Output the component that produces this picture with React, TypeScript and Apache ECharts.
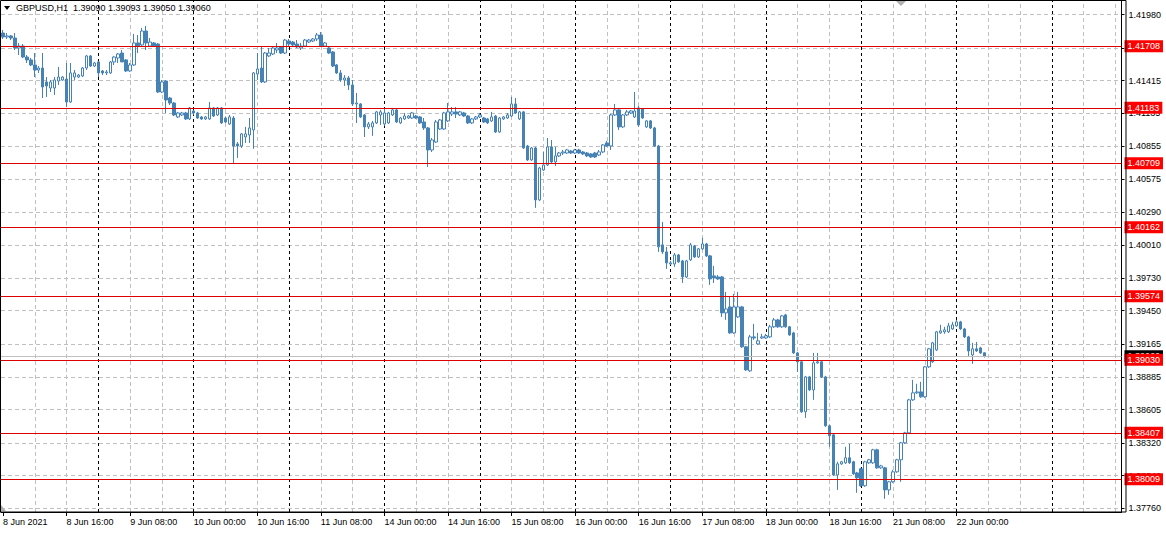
import React, { useEffect, useRef } from 'react';
import * as echarts from 'echarts';

const symbolName = 'GBPUSD';
const periodName = 'H1';
const firstLabel = '8 Jun 2021';
const tradingDays = ['8 Jun', '9 Jun', '10 Jun', '11 Jun', '14 Jun', '15 Jun', '16 Jun', '17 Jun', '18 Jun', '21 Jun', '22 Jun', '23 Jun'];
const totalSlots = 282;
const gridEvery = 8;
const labelEvery = 16;

const opens = [
  1.41822, 1.41788, 1.41797, 1.41779, 1.41694, 1.41711, 1.41617, 1.41592, 1.41549, 1.41506,
  1.41523, 1.41404, 1.41352, 1.41352, 1.41412, 1.41421, 1.41429, 1.41233, 1.41446, 1.41446,
  1.41455, 1.41523, 1.41626, 1.41540, 1.41575, 1.41498, 1.41481, 1.41481, 1.41575, 1.41609,
  1.41651, 1.41592, 1.41498, 1.41549, 1.41737, 1.41720, 1.41839, 1.41711, 1.41737, 1.41728,
  1.41318, 1.41412, 1.41267, 1.41224, 1.41105, 1.41122, 1.41139, 1.41088, 1.41156, 1.41139,
  1.41105, 1.41088, 1.41088, 1.41182, 1.41122, 1.41182, 1.41096, 1.41045, 1.41096, 1.40874,
  1.40857, 1.40934, 1.40951, 1.40994, 1.41472, 1.41523, 1.41404, 1.41626, 1.41643, 1.41677,
  1.41703, 1.41651, 1.41754, 1.41745, 1.41728, 1.41694, 1.41711, 1.41745, 1.41754, 1.41771,
  1.41805, 1.41711, 1.41694, 1.41660, 1.41549, 1.41481, 1.41421, 1.41438, 1.41378, 1.41216,
  1.41216, 1.41122, 1.41020, 1.41020, 1.41054, 1.41122, 1.41045, 1.41054, 1.41122, 1.41165,
  1.41054, 1.41088, 1.41096, 1.41096, 1.41113, 1.41105, 1.41062, 1.41011, 1.40823, 1.40891,
  1.41002, 1.41002, 1.41071, 1.41130, 1.41148, 1.41122, 1.41139, 1.41113, 1.41054, 1.41088,
  1.41105, 1.41096, 1.41088, 1.41071, 1.41113, 1.40977, 1.41088, 1.41096, 1.41113, 1.41216,
  1.41088, 1.41148, 1.40857, 1.40738, 1.40840, 1.40396, 1.40652, 1.40695, 1.40849, 1.40721,
  1.40772, 1.40797, 1.40797, 1.40814, 1.40797, 1.40823, 1.40806, 1.40797, 1.40789, 1.40797,
  1.40780, 1.40806, 1.40883, 1.40857, 1.41122, 1.41165, 1.41020, 1.41122, 1.41139, 1.41105,
  1.41182, 1.41173, 1.41020, 1.41071, 1.41011, 1.40857, 1.40012, 1.39952, 1.39849, 1.39849,
  1.39926, 1.39875, 1.39738, 1.39884, 1.40003, 1.39909, 1.39978, 1.40020, 1.39918, 1.39747,
  1.39738, 1.39738, 1.39431, 1.39482, 1.39260, 1.39397, 1.39482, 1.39141, 1.38936, 1.39226,
  1.39166, 1.39217, 1.39217, 1.39226, 1.39312, 1.39371, 1.39312, 1.39414, 1.39312, 1.39260,
  1.39089, 1.39013, 1.38586, 1.38884, 1.38773, 1.39004, 1.39013, 1.38884, 1.38466, 1.38389,
  1.38047, 1.38141, 1.38150, 1.38193, 1.38159, 1.38064, 1.38099, 1.37954, 1.38150, 1.38150,
  1.38261, 1.38107, 1.38107, 1.37919, 1.37988, 1.38073, 1.38176, 1.38321, 1.38406, 1.38688,
  1.38748, 1.38756, 1.38714, 1.38970, 1.39013, 1.39115, 1.39260, 1.39269, 1.39269, 1.39294,
  1.39320, 1.39354, 1.39294, 1.39226, 1.39072, 1.39124, 1.39132, 1.39090,
];

const highs = [
  1.41848, 1.41822, 1.41805, 1.41822, 1.41737, 1.41728, 1.41634, 1.41609, 1.41651, 1.41540,
  1.41651, 1.41446, 1.41421, 1.41446, 1.41532, 1.41455, 1.41566, 1.41566, 1.41506, 1.41472,
  1.41532, 1.41634, 1.41634, 1.41575, 1.41583, 1.41506, 1.41506, 1.41583, 1.41626, 1.41651,
  1.41677, 1.41600, 1.41566, 1.41814, 1.41805, 1.41865, 1.41882, 1.41779, 1.41745, 1.41737,
  1.41421, 1.41421, 1.41276, 1.41233, 1.41148, 1.41148, 1.41148, 1.41190, 1.41165, 1.41148,
  1.41113, 1.41113, 1.41233, 1.41190, 1.41190, 1.41190, 1.41105, 1.41122, 1.41113, 1.40891,
  1.40968, 1.41020, 1.41096, 1.41489, 1.41651, 1.41703, 1.41660, 1.41694, 1.41703, 1.41737,
  1.41711, 1.41771, 1.41771, 1.41754, 1.41762, 1.41737, 1.41771, 1.41771, 1.41779, 1.41822,
  1.41831, 1.41745, 1.41703, 1.41668, 1.41557, 1.41506, 1.41463, 1.41455, 1.41421, 1.41310,
  1.41224, 1.41130, 1.41062, 1.41071, 1.41156, 1.41165, 1.41182, 1.41148, 1.41182, 1.41173,
  1.41105, 1.41139, 1.41122, 1.41148, 1.41122, 1.41113, 1.41096, 1.41020, 1.40925, 1.41079,
  1.41088, 1.41148, 1.41224, 1.41190, 1.41190, 1.41156, 1.41148, 1.41122, 1.41096, 1.41113,
  1.41139, 1.41105, 1.41096, 1.41148, 1.41122, 1.41105, 1.41113, 1.41139, 1.41276, 1.41267,
  1.41156, 1.41156, 1.40866, 1.40849, 1.40849, 1.40678, 1.40806, 1.40925, 1.40908, 1.40849,
  1.40806, 1.40823, 1.40832, 1.40823, 1.40832, 1.40832, 1.40814, 1.40806, 1.40797, 1.40806,
  1.40823, 1.40874, 1.40900, 1.41130, 1.41216, 1.41173, 1.41130, 1.41165, 1.41165, 1.41318,
  1.41199, 1.41182, 1.41079, 1.41079, 1.41020, 1.40866, 1.40208, 1.39995, 1.39875, 1.39943,
  1.39935, 1.39884, 1.39884, 1.40029, 1.40012, 1.39986, 1.40071, 1.40029, 1.39926, 1.39832,
  1.39755, 1.39747, 1.39610, 1.39568, 1.39593, 1.39610, 1.39491, 1.39149, 1.39243, 1.39337,
  1.39260, 1.39252, 1.39252, 1.39329, 1.39388, 1.39380, 1.39414, 1.39422, 1.39320, 1.39269,
  1.39098, 1.39021, 1.38893, 1.38893, 1.39089, 1.39089, 1.39021, 1.38893, 1.38475, 1.38398,
  1.38159, 1.38167, 1.38287, 1.38312, 1.38167, 1.38073, 1.38107, 1.38167, 1.38184, 1.38270,
  1.38270, 1.38133, 1.38116, 1.37996, 1.38090, 1.38184, 1.38329, 1.38415, 1.38697, 1.38859,
  1.38825, 1.38842, 1.38978, 1.39132, 1.39183, 1.39277, 1.39329, 1.39312, 1.39346, 1.39354,
  1.39371, 1.39363, 1.39303, 1.39235, 1.39175, 1.39183, 1.39141, 1.39093,
];

const lows = [
  1.41771, 1.41771, 1.41762, 1.41677, 1.41634, 1.41609, 1.41566, 1.41540, 1.41446, 1.41481,
  1.41267, 1.41276, 1.41318, 1.41293, 1.41378, 1.41412, 1.41190, 1.41224, 1.41421, 1.41438,
  1.41446, 1.41506, 1.41532, 1.41532, 1.41446, 1.41463, 1.41463, 1.41472, 1.41549, 1.41566,
  1.41575, 1.41489, 1.41489, 1.41540, 1.41651, 1.41711, 1.41677, 1.41703, 1.41703, 1.41310,
  1.41310, 1.41139, 1.41207, 1.41113, 1.41096, 1.41113, 1.41079, 1.41079, 1.41122, 1.41088,
  1.41079, 1.41079, 1.41079, 1.41105, 1.41113, 1.41045, 1.41054, 1.41037, 1.40712, 1.40755,
  1.40840, 1.40883, 1.40883, 1.40832, 1.41421, 1.41395, 1.41395, 1.41617, 1.41634, 1.41651,
  1.41643, 1.41643, 1.41703, 1.41711, 1.41694, 1.41677, 1.41703, 1.41737, 1.41745, 1.41754,
  1.41703, 1.41703, 1.41643, 1.41532, 1.41472, 1.41404, 1.41370, 1.41335, 1.41199, 1.41054,
  1.41096, 1.40934, 1.41002, 1.40943, 1.41045, 1.41037, 1.41028, 1.41045, 1.41113, 1.41054,
  1.41045, 1.41079, 1.41088, 1.41088, 1.41088, 1.41045, 1.40994, 1.40678, 1.40806, 1.40883,
  1.40994, 1.40994, 1.41062, 1.41113, 1.41096, 1.41113, 1.41105, 1.41045, 1.41045, 1.41079,
  1.41096, 1.41054, 1.41045, 1.41062, 1.40968, 1.40968, 1.41079, 1.41088, 1.41105, 1.41130,
  1.41079, 1.40832, 1.40729, 1.40729, 1.40328, 1.40387, 1.40644, 1.40686, 1.40703, 1.40686,
  1.40763, 1.40780, 1.40789, 1.40789, 1.40789, 1.40789, 1.40780, 1.40763, 1.40755, 1.40755,
  1.40772, 1.40797, 1.40849, 1.40823, 1.41113, 1.40994, 1.41011, 1.41113, 1.41130, 1.41096,
  1.41020, 1.41088, 1.41011, 1.41002, 1.40849, 1.39952, 1.39935, 1.39807, 1.39841, 1.39824,
  1.39858, 1.39687, 1.39730, 1.39875, 1.39901, 1.39901, 1.39969, 1.39909, 1.39670, 1.39687,
  1.39713, 1.39397, 1.39371, 1.39252, 1.39252, 1.39388, 1.39132, 1.38936, 1.38927, 1.39200,
  1.39158, 1.39209, 1.39209, 1.39217, 1.39303, 1.39303, 1.39303, 1.39303, 1.39235, 1.39081,
  1.38927, 1.38577, 1.38534, 1.38765, 1.38688, 1.38996, 1.38876, 1.38458, 1.38287, 1.38039,
  1.37919, 1.38133, 1.38141, 1.38141, 1.38047, 1.37894, 1.37945, 1.37945, 1.38141, 1.38141,
  1.38099, 1.38099, 1.37843, 1.37877, 1.37979, 1.38065, 1.37988, 1.38312, 1.38398, 1.38679,
  1.38739, 1.38705, 1.38705, 1.38961, 1.39004, 1.39106, 1.39252, 1.39252, 1.39260, 1.39286,
  1.39312, 1.39286, 1.39217, 1.39055, 1.38996, 1.39098, 1.39081, 1.39050,
];

const closes = [
  1.41788, 1.41797, 1.41779, 1.41694, 1.41711, 1.41617, 1.41592, 1.41549, 1.41506, 1.41523,
  1.41361, 1.41370, 1.41404, 1.41421, 1.41446, 1.41446, 1.41233, 1.41481, 1.41481, 1.41463,
  1.41523, 1.41626, 1.41540, 1.41566, 1.41481, 1.41481, 1.41489, 1.41575, 1.41617, 1.41643,
  1.41575, 1.41498, 1.41549, 1.41737, 1.41711, 1.41839, 1.41737, 1.41745, 1.41711, 1.41318,
  1.41404, 1.41250, 1.41224, 1.41122, 1.41139, 1.41139, 1.41088, 1.41182, 1.41139, 1.41096,
  1.41088, 1.41105, 1.41182, 1.41113, 1.41182, 1.41054, 1.41062, 1.41105, 1.40857, 1.40857,
  1.40960, 1.40960, 1.41011, 1.41481, 1.41515, 1.41404, 1.41651, 1.41651, 1.41694, 1.41694,
  1.41651, 1.41762, 1.41728, 1.41720, 1.41703, 1.41711, 1.41762, 1.41762, 1.41771, 1.41805,
  1.41711, 1.41737, 1.41651, 1.41540, 1.41481, 1.41421, 1.41438, 1.41378, 1.41216, 1.41224,
  1.41105, 1.41020, 1.41045, 1.41054, 1.41148, 1.41148, 1.41139, 1.41139, 1.41165, 1.41062,
  1.41096, 1.41113, 1.41113, 1.41139, 1.41096, 1.41054, 1.41011, 1.40823, 1.40908, 1.41062,
  1.41079, 1.41139, 1.41148, 1.41148, 1.41130, 1.41148, 1.41113, 1.41054, 1.41088, 1.41105,
  1.41122, 1.41062, 1.41054, 1.41105, 1.40977, 1.41096, 1.41105, 1.41122, 1.41216, 1.41139,
  1.41148, 1.40840, 1.40738, 1.40840, 1.40396, 1.40669, 1.40695, 1.40849, 1.40721, 1.40772,
  1.40797, 1.40806, 1.40823, 1.40797, 1.40823, 1.40797, 1.40789, 1.40772, 1.40763, 1.40763,
  1.40806, 1.40866, 1.40857, 1.41122, 1.41165, 1.41020, 1.41122, 1.41148, 1.41156, 1.41156,
  1.41037, 1.41096, 1.41071, 1.41011, 1.40857, 1.39995, 1.39952, 1.39858, 1.39858, 1.39926,
  1.39867, 1.39738, 1.39875, 1.40012, 1.39909, 1.39978, 1.40020, 1.39918, 1.39721, 1.39730,
  1.39721, 1.39431, 1.39465, 1.39260, 1.39482, 1.39482, 1.39141, 1.38944, 1.39226, 1.39217,
  1.39192, 1.39226, 1.39235, 1.39312, 1.39371, 1.39312, 1.39405, 1.39312, 1.39243, 1.39089,
  1.39013, 1.38586, 1.38884, 1.38773, 1.39004, 1.39013, 1.38884, 1.38466, 1.38381, 1.38047,
  1.38141, 1.38159, 1.38193, 1.38150, 1.38056, 1.38022, 1.37954, 1.38159, 1.38176, 1.38261,
  1.38107, 1.38124, 1.37919, 1.37988, 1.38073, 1.38176, 1.38321, 1.38406, 1.38688, 1.38748,
  1.38756, 1.38714, 1.38970, 1.39124, 1.39175, 1.39269, 1.39277, 1.39286, 1.39320, 1.39329,
  1.39354, 1.39294, 1.39226, 1.39106, 1.39124, 1.39106, 1.39089, 1.39060,
];

const priceTicks = [
  1.41980, 1.41695, 1.41415, 1.41135, 1.40855, 1.40575, 1.40290, 1.40010,
  1.39730, 1.39450, 1.39165, 1.38885, 1.38605, 1.38320, 1.38040, 1.37760,
];
const levelPrices = [1.41708, 1.41183, 1.40709, 1.40162, 1.39574, 1.39030, 1.38407, 1.38009];
const bidPrice = 1.39060;
const priceMin = 1.37730;
const priceMax = 1.42104;

const FONT = "'Liberation Sans', Arial, sans-serif";
const CANDLE = '#4682b4';

function buildCategories(): string[] {
  const out: string[] = [];
  for (const d of tradingDays) {
    for (let h = 0; h < 24; h++) {
      out.push(`${d} ${String(h).padStart(2, '0')}:00`);
    }
  }
  return out.slice(0, totalSlots);
}

export default function App() {
  const ref = useRef<HTMLDivElement>(null);

  useEffect(() => {
    if (!ref.current) return;
    const chart = echarts.init(ref.current, null, { renderer: 'svg' });
    const categories = buildCategories();
    const n = closes.length;
    const candles = closes.map((c, i) => [opens[i], c, lows[i], highs[i]]);

    const vLines: any[] = [];
    for (let i = gridEvery; i < totalSlots; i += gridEvery) {
      const isDay = categories[i].endsWith(' 00:00');
      vLines.push({
        xAxis: i,
        lineStyle: isDay
          ? { color: '#000000', type: [3, 3], width: 1 }
          : { color: '#c0c0c0', type: [4, 3], width: 1 },
      });
    }
    const hLines = priceTicks.map((v) => ({
      yAxis: v,
      lineStyle: { color: '#c0c0c0', type: [4, 3], width: 1 },
    }));

    const levelLines: any[] = [
      { yAxis: bidPrice, lineStyle: { color: '#c0c0c0', type: 'solid', width: 1 } },
      ...levelPrices.map((v) => ({ yAxis: v, lineStyle: { color: '#dd0000', type: 'solid', width: 1 } })),
    ];

    const last = n - 1;
    const title = `${symbolName},${periodName}  ${opens[last].toFixed(5)} ${highs[last].toFixed(5)} ${lows[last].toFixed(5)} ${closes[last].toFixed(5)}`;

    const option: any = {
      animation: false,
      backgroundColor: '#ffffff',
      textStyle: { fontFamily: FONT },
      grid: { left: -2, right: 40, top: 0, bottom: 24, containLabel: false },
      xAxis: {
        type: 'category',
        data: categories,
        boundaryGap: true,
        axisLine: { show: true, lineStyle: { color: '#000000', width: 1 } },
        axisTick: {
          show: true,
          alignWithLabel: true,
          length: 4,
          interval: (i: number) => i % labelEvery === 0 && i < n,
          lineStyle: { color: '#000000' },
        },
        axisLabel: {
          interval: (i: number) => i % labelEvery === 0 && i < n,
          formatter: (v: string, i: number) => (i === 0 ? firstLabel : v),
          align: 'left',
          color: '#000000',
          fontFamily: FONT,
          fontSize: 9,
          margin: 5,
        },
        splitLine: { show: false },
      },
      yAxis: [
        {
          type: 'value',
          position: 'right',
          min: priceMin,
          max: priceMax,
          z: 2,
          axisLine: { show: true, lineStyle: { color: '#000000', width: 1 } },
          axisTick: { show: true, customValues: priceTicks, length: 3, lineStyle: { color: '#000000' } },
          axisLabel: {
            customValues: priceTicks,
            formatter: (v: number) => v.toFixed(5),
            color: '#000000',
            fontFamily: FONT,
            fontSize: 9,
            margin: 7,
          },
          splitLine: { show: false },
        },
        {
          type: 'value',
          position: 'right',
          min: priceMin,
          max: priceMax,
          z: 3,
          axisLine: { show: false },
          axisTick: { show: false },
          splitLine: { show: false },
          axisLabel: {
            customValues: [bidPrice],
            formatter: (v: number) => v.toFixed(5),
            color: '#ffffff',
            backgroundColor: '#000000',
            padding: [2, 3, 1, 3],
            fontFamily: FONT,
            fontSize: 9,
            margin: 3,
          },
        },
        {
          type: 'value',
          position: 'right',
          min: priceMin,
          max: priceMax,
          z: 4,
          axisLine: { show: false },
          axisTick: { show: false },
          splitLine: { show: false },
          axisLabel: {
            customValues: levelPrices,
            formatter: (v: number) => v.toFixed(5),
            color: '#ffffff',
            backgroundColor: '#ff0000',
            padding: [2, 3, 1, 3],
            fontFamily: FONT,
            fontSize: 9,
            margin: 3,
          },
        },
      ],
      series: [
        {
          type: 'line',
          data: [],
          silent: true,
          z: 1,
          markLine: {
            silent: true,
            z: 1,
            precision: 6,
            symbol: ['none', 'none'],
            label: { show: false },
            emphasis: { disabled: true },
            data: [...hLines, ...vLines],
          },
        },
        {
          type: 'candlestick',
          data: candles,
          barWidth: 3,
          z: 3,
          itemStyle: {
            color: '#ffffff',
            color0: CANDLE,
            borderColor: CANDLE,
            borderColor0: CANDLE,
            borderColorDoji: CANDLE,
            borderWidth: 1,
          },
        },
        {
          type: 'line',
          data: [],
          silent: true,
          z: 6,
          markLine: {
            silent: true,
            z: 6,
            precision: 6,
            symbol: ['none', 'none'],
            label: { show: false },
            emphasis: { disabled: true },
            data: levelLines,
          },
        },
      ],
      graphic: [
        {
          type: 'rect',
          z: 50,
          silent: true,
          shape: { x: 0.5, y: 0.5, width: 1125.5, height: 511.5 },
          style: { fill: 'none', stroke: '#000000', lineWidth: 1 },
        },
        {
          type: 'polygon',
          z: 50,
          silent: true,
          shape: { points: [[4, 6], [10, 6], [7, 10]] },
          style: { fill: '#000000' },
        },
        {
          type: 'polygon',
          z: 50,
          silent: true,
          shape: { points: [[896, 1], [906, 1], [901, 6]] },
          style: { fill: '#b0b0b0' },
        },
        {
          type: 'polygon',
          z: 50,
          silent: true,
          shape: { points: [[1, 505], [1, 511], [6, 511]] },
          style: { fill: '#b0b0b0' },
        },
        {
          type: 'text',
          z: 50,
          silent: true,
          x: 16,
          y: 3,
          style: { text: title, fill: '#000000', font: `9px ${FONT}` },
        },
      ],
    };

    chart.setOption(option);
    return () => chart.dispose();
  }, []);

  return (
    <div
      ref={ref}
      style={{ position: 'absolute', left: 0, top: 0, width: 1166, height: 536, background: '#fff' }}
    />
  );
}
